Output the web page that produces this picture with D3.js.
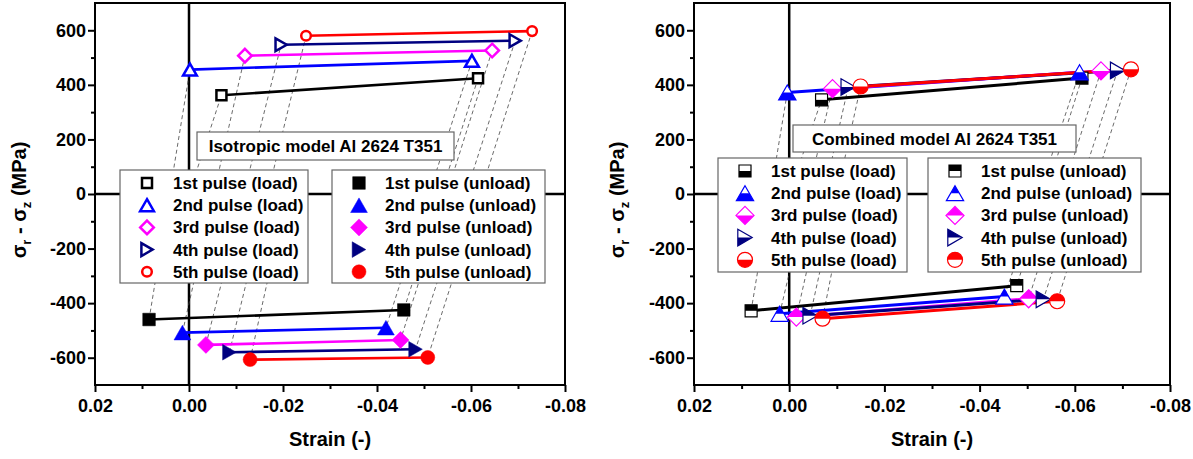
<!DOCTYPE html>
<html>
<head>
<meta charset="utf-8">
<script src="https://cdn.jsdelivr.net/npm/d3@7/dist/d3.min.js"></script>
<style>
html,body{margin:0;padding:0;background:#fff;}
svg{display:block;}
text{font-family:"Liberation Sans",Arial,Helvetica,sans-serif;font-weight:bold;}
</style>
</head>
<body>
<svg id="fig" width="1193" height="459"></svg>
<script>
// ---- shared series definitions ----
const pulseNames   = ["1st pulse", "2nd pulse", "3rd pulse", "4th pulse", "5th pulse"];
const pulseColors  = ["#000000", "#0000ff", "#ff00ff", "#000080", "#ff0000"];
const pulseSymbols = ["square", "triangle", "diamond", "rtriangle", "circle"];

// ---- axes ----
const xTickValues  = [0.02, 0, -0.02, -0.04, -0.06, -0.08];
const xTickLabels  = ["0.02", "0.00", "-0.02", "-0.04", "-0.06", "-0.08"];
const xMinorValues = [0.01, -0.01, -0.03, -0.05, -0.07];
const yTickValues  = [-600, -400, -200, 0, 200, 400, 600];
const yTickLabels  = ["-600", "-400", "-200", "0", "200", "400", "600"];
const yMinorValues = [-500, -300, -100, 100, 300, 500];

// ---- isotropic model: strain (-) and stress difference (MPa) at both ends of each branch ----
const isoLoadStrainStart   = [-0.0069, -0.0002, -0.0119, -0.0196, -0.0249];
const isoLoadStressStart   = [362, 456, 507, 547, 580];
const isoLoadStrainEnd     = [-0.0615, -0.0602, -0.0645, -0.0694, -0.0730];
const isoLoadStressEnd     = [424, 488, 526, 562, 597];
const isoUnloadStrainStart = [0.0085, 0.0014, -0.0036, -0.0086, -0.0130];
const isoUnloadStressStart = [-460, -508, -553, -580, -607];
const isoUnloadStrainEnd   = [-0.0457, -0.0419, -0.0450, -0.0482, -0.0508];
const isoUnloadStressEnd   = [-425, -490, -535, -569, -599];
const isoRelaxed           = [-0.0208, 0];

// ---- combined model ----
const cmbLoadStrainStart   = [-0.0068, 0.0004, -0.0091, -0.0124, -0.0150];
const cmbLoadStressStart   = [345, 372, 386, 392, 394];
const cmbLoadStrainEnd     = [-0.0615, -0.0610, -0.0655, -0.0690, -0.0718];
const cmbLoadStressEnd     = [425, 446, 451, 453, 457];
const cmbUnloadStrainStart = [0.0080, 0.0020, -0.0015, -0.0044, -0.0070];
const cmbUnloadStressStart = [-428, -439, -451, -446, -457];
const cmbUnloadStrainEnd   = [-0.0478, -0.0452, -0.0503, -0.0534, -0.0563];
const cmbUnloadStressEnd   = [-336, -376, -384, -386, -393];
const cmbRelaxed           = [-0.0122, 0];

// ---- marker styles ----
const isoLoadStyle   = {kind: "open",   stroke: 2.5, sizes: {square: 5, triangle: 6, diamond: 6.8, rtriangle: 5.6, circle: 4.8}};
const isoUnloadStyle = {kind: "filled", stroke: 0.5, sizes: {square: 6.3, triangle: 7.3, diamond: 8.5, rtriangle: 6.8, circle: 7}};
const cmbLoadStyle   = {kind: "halfBottom", stroke: 1.2, sizes: {square: 6, triangle: 7.5, diamond: 9, rtriangle: 7.2, circle: 7.5}};
const cmbUnloadStyle = {kind: "halfTop",    stroke: 1.2, sizes: {square: 6, triangle: 7.5, diamond: 9, rtriangle: 7.2, circle: 7.5}};

const svg = d3.select("#fig");

function shapePts(type, r) {
  switch (type) {
    case "square":    return [[-r, -r], [r, -r], [r, r], [-r, r]];
    case "triangle":  return [[0, -r], [r * 1.15, r], [-r * 1.15, r]];
    case "diamond":   return [[0, -r], [r, 0], [0, r], [-r, 0]];
    case "rtriangle": return [[-r, -r * 1.15], [r, 0], [-r, r * 1.15]];
  }
}
function polyPath(pts) {
  return "M" + pts.map(p => p[0].toFixed(2) + "," + p[1].toFixed(2)).join("L") + "Z";
}
function circlePath(r) {
  return `M${-r},0A${r},${r} 0 1,0 ${r},0A${r},${r} 0 1,0 ${-r},0Z`;
}
function halfCirclePath(r, bottom) {
  return bottom ? `M${-r},0A${r},${r} 0 0,0 ${r},0Z` : `M${-r},0A${r},${r} 0 0,1 ${r},0Z`;
}
// keep the part of a polygon below (bottom) or above the horizontal midline
function clipHalf(pts, bottom) {
  const inside = p => bottom ? p[1] >= 0 : p[1] <= 0;
  const out = [];
  for (let i = 0; i < pts.length; i++) {
    const a = pts[i], b = pts[(i + 1) % pts.length];
    const ia = inside(a), ib = inside(b);
    if (ia) out.push(a);
    if (ia !== ib) {
      const t = a[1] / (a[1] - b[1]);
      out.push([a[0] + t * (b[0] - a[0]), 0]);
    }
  }
  return out;
}
function drawMarker(g, type, cx, cy, color, style) {
  const m = g.append("g").attr("transform", `translate(${cx},${cy})`);
  const r = style.sizes[type];
  const full = type === "circle" ? circlePath(r) : polyPath(shapePts(type, r));
  if (style.kind === "open") {
    m.append("path").attr("d", full).attr("fill", "#fff")
      .attr("stroke", color).attr("stroke-width", style.stroke).attr("stroke-linejoin", "miter");
  } else if (style.kind === "filled") {
    m.append("path").attr("d", full).attr("fill", color)
      .attr("stroke", color).attr("stroke-width", style.stroke);
  } else {
    const bottom = style.kind === "halfBottom";
    m.append("path").attr("d", full).attr("fill", "#fff");
    const half = type === "circle" ? halfCirclePath(r, bottom) : polyPath(clipHalf(shapePts(type, r), bottom));
    m.append("path").attr("d", half).attr("fill", color);
    m.append("path").attr("d", full).attr("fill", "none")
      .attr("stroke", color).attr("stroke-width", style.stroke);
  }
}

const panels = [
  {
    left: 95, right: 565, top: 3, bottom: 385, yTitleX: 26,
    title: "Isotropic model Al 2624 T351", titleBox: [197, 132, 257, 28],
    loadBox: [120, 170, 188, 113], unloadBox: [332, 170, 213, 113],
    loadStyle: isoLoadStyle, unloadStyle: isoUnloadStyle, lineWidth: 2.6,
    ls0: isoLoadStrainStart, lp0: isoLoadStressStart, ls1: isoLoadStrainEnd, lp1: isoLoadStressEnd,
    us0: isoUnloadStrainStart, up0: isoUnloadStressStart, us1: isoUnloadStrainEnd, up1: isoUnloadStressEnd,
    relaxed: isoRelaxed
  },
  {
    left: 694, right: 1170, top: 3, bottom: 385, yTitleX: 624,
    title: "Combined model Al 2624 T351", titleBox: [793, 125, 283, 27],
    loadBox: [718, 158, 189, 114], unloadBox: [928, 158, 213, 114],
    loadStyle: cmbLoadStyle, unloadStyle: cmbUnloadStyle, lineWidth: 3,
    ls0: cmbLoadStrainStart, lp0: cmbLoadStressStart, ls1: cmbLoadStrainEnd, lp1: cmbLoadStressEnd,
    us0: cmbUnloadStrainStart, up0: cmbUnloadStressStart, us1: cmbUnloadStrainEnd, up1: cmbUnloadStressEnd,
    relaxed: cmbRelaxed
  }
];

function drawPanel(p) {
  const x = d3.scaleLinear().domain([0.02, -0.08]).range([p.left, p.right]);
  const y = d3.scaleLinear().domain([-700, 700]).range([p.bottom, p.top]);
  const g = svg.append("g");
  const line = d3.line().x(d => x(d[0])).y(d => y(d[1]));

  // zero axes through the origin
  g.append("line").attr("x1", x(0)).attr("x2", x(0)).attr("y1", y(700)).attr("y2", y(-700))
    .attr("stroke", "#000").attr("stroke-width", 2.5);
  g.append("line").attr("x1", x(0.02)).attr("x2", x(-0.08)).attr("y1", y(0)).attr("y2", y(0))
    .attr("stroke", "#000").attr("stroke-width", 2.5);

  // dashed elastic paths linking the branches
  const segs = [[[0, 0], [p.ls0[0], p.lp0[0]]]];
  for (let i = 0; i < 5; i++) segs.push([[p.ls1[i], p.lp1[i]], [p.us1[i], p.up1[i]]]);
  for (let i = 0; i < 4; i++) segs.push([[p.us0[i], p.up0[i]], [p.ls0[i + 1], p.lp0[i + 1]]]);
  segs.push([[p.us0[4], p.up0[4]], p.relaxed]);
  g.append("g").selectAll("path").data(segs).join("path")
    .attr("d", line).attr("fill", "none").attr("stroke", "#444")
    .attr("stroke-width", 0.8).attr("stroke-dasharray", "4,3");

  // loading / unloading branches
  for (let i = 0; i < 5; i++) {
    g.append("path").attr("d", line([[p.ls0[i], p.lp0[i]], [p.ls1[i], p.lp1[i]]]))
      .attr("stroke", pulseColors[i]).attr("stroke-width", p.lineWidth).attr("fill", "none");
    g.append("path").attr("d", line([[p.us0[i], p.up0[i]], [p.us1[i], p.up1[i]]]))
      .attr("stroke", pulseColors[i]).attr("stroke-width", p.lineWidth).attr("fill", "none");
  }
  for (let i = 0; i < 5; i++) {
    drawMarker(g, pulseSymbols[i], x(p.ls0[i]), y(p.lp0[i]), pulseColors[i], p.loadStyle);
    drawMarker(g, pulseSymbols[i], x(p.ls1[i]), y(p.lp1[i]), pulseColors[i], p.loadStyle);
    drawMarker(g, pulseSymbols[i], x(p.us0[i]), y(p.up0[i]), pulseColors[i], p.unloadStyle);
    drawMarker(g, pulseSymbols[i], x(p.us1[i]), y(p.up1[i]), pulseColors[i], p.unloadStyle);
  }

  // axes with major and minor ticks
  const styleAxis = a => {
    a.select(".domain").remove();
    a.attr("font-size", 18).attr("font-family", null);
    a.selectAll("line").attr("stroke", "#000").attr("stroke-width", 2);
    a.selectAll("text").attr("fill", "#000");
  };
  g.append("g").attr("transform", `translate(0,${p.bottom})`)
    .call(d3.axisBottom(x).tickValues(xTickValues).tickFormat((d, i) => xTickLabels[i]).tickSize(7).tickPadding(7))
    .call(styleAxis);
  g.append("g").attr("transform", `translate(0,${p.bottom})`)
    .call(d3.axisBottom(x).tickValues(xMinorValues).tickFormat("").tickSize(4))
    .call(styleAxis);
  g.append("g").attr("transform", `translate(${p.left},0)`)
    .call(d3.axisLeft(y).tickValues(yTickValues).tickFormat((d, i) => yTickLabels[i]).tickSize(7).tickPadding(2))
    .call(styleAxis);
  g.append("g").attr("transform", `translate(${p.left},0)`)
    .call(d3.axisLeft(y).tickValues(yMinorValues).tickFormat("").tickSize(4))
    .call(styleAxis);

  // plot frame
  g.append("rect").attr("x", p.left).attr("y", p.top)
    .attr("width", p.right - p.left).attr("height", p.bottom - p.top)
    .attr("fill", "none").attr("stroke", "#000").attr("stroke-width", 2);

  // axis titles
  g.append("text").attr("x", (p.left + p.right) / 2).attr("y", 446)
    .attr("text-anchor", "middle").attr("font-size", 20).text("Strain (-)");
  const yt = g.append("text")
    .attr("transform", `translate(${p.yTitleX},${200}) rotate(-90)`)
    .attr("text-anchor", "middle").attr("font-size", 20);
  yt.append("tspan").text("σ");
  yt.append("tspan").attr("font-size", 13).attr("dy", 5).text("r");
  yt.append("tspan").attr("dy", -5).text(" - σ");
  yt.append("tspan").attr("font-size", 13).attr("dy", 5).text("z");
  yt.append("tspan").attr("dy", -5).text(" (MPa)");

  // model title box
  const tb = p.titleBox;
  g.append("rect").attr("x", tb[0]).attr("y", tb[1]).attr("width", tb[2]).attr("height", tb[3])
    .attr("fill", "#fff").attr("stroke", "#666").attr("stroke-width", 1.2);
  g.append("text").attr("x", tb[0] + tb[2] / 2).attr("y", tb[1] + tb[3] / 2 + 6)
    .attr("text-anchor", "middle").attr("font-size", 17).text(p.title);

  // legends
  const legend = (box, style, suffix) => {
    g.append("rect").attr("x", box[0]).attr("y", box[1]).attr("width", box[2]).attr("height", box[3])
      .attr("fill", "#fff").attr("stroke", "#666").attr("stroke-width", 1.2);
    for (let i = 0; i < 5; i++) {
      const cy = box[1] + 13 + i * 22.2;
      drawMarker(g, pulseSymbols[i], box[0] + 27, cy, pulseColors[i], style);
      g.append("text").attr("x", box[0] + 53).attr("y", cy + 6)
        .attr("font-size", 17).text(pulseNames[i] + suffix);
    }
  };
  legend(p.loadBox, p.loadStyle, " (load)");
  legend(p.unloadBox, p.unloadStyle, " (unload)");
}

panels.forEach(drawPanel);
</script>
</body>
</html>
